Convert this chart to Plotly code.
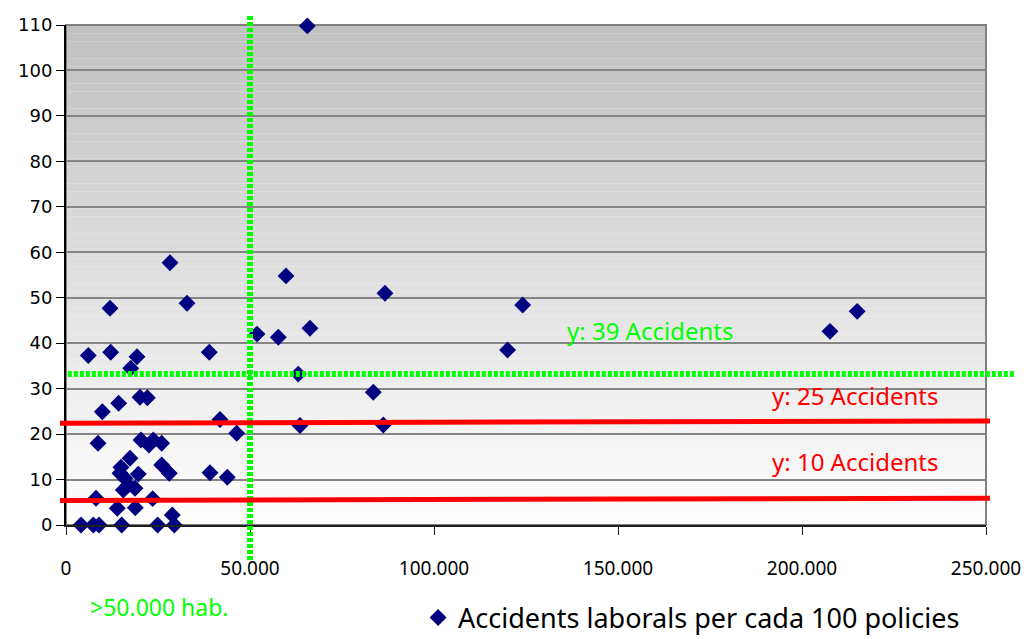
import plotly.graph_objects as go

# habitants (x) vs accidents per 100 policies (y)
habitants = [4080, 7420, 8970, 15130, 24900, 29430,
             28880, 13940, 18830, 8150, 23550,
             15570, 18750, 16930, 16030, 14670, 19650, 14940, 17390,
             26000, 28070,
             8700, 20380, 23730, 26000, 22550,
             9870, 14310, 20110, 22100,
             39130, 43830, 41850, 46380,
             6060, 12140, 19290, 17580, 38940,
             11960, 32880, 28260,
             51900, 57690, 59780, 66300, 63120, 63580,
             83500, 86220, 86680, 65570,
             120000, 124100, 207600, 215000]
accidents = [0, 0, 0, 0, 0, 0,
             2.2, 3.7, 3.8, 5.9, 5.8,
             7.7, 8.1, 8.8, 10.3, 11.4, 11.2, 12.7, 14.7,
             13.2, 11.4,
             18.0, 18.7, 18.7, 18.0, 17.6,
             24.9, 26.8, 28.1, 28.0,
             11.5, 10.5, 23.2, 20.2,
             37.3, 38.0, 37.0, 34.5, 38.0,
             47.7, 48.8, 57.7,
             42.0, 41.3, 54.8, 43.3, 33.2, 21.9,
             29.2, 22.0, 51.0, 109.8,
             38.5, 48.4, 42.6, 47.0]

habitants_cut = 50000
green_level = 33.2
red_levels = [(22.4, 22.9), (5.4, 5.9)]

comic = "Comic Sans MS, Noto Sans, sans-serif"

fig = go.Figure()

fig.add_trace(go.Scatter(
    x=habitants, y=accidents, mode="markers",
    name="Accidents laborals per cada 100 policies",
    marker=dict(symbol="diamond", size=13, color="#000080"),
    cliponaxis=False,
))

# gradient background: gray at top fading to white
n_bands = 60
for i in range(n_bands):
    t = (i + 0.5) / n_bands
    g = int(round(255 - 63 * t))
    fig.add_shape(type="rect", xref="x domain", yref="y domain",
                  x0=0, x1=1, y0=i / n_bands, y1=(i + 1) / n_bands,
                  fillcolor=f"rgb({g},{g},{g})", line_width=0, layer="below")

# gray frame top/right
fig.add_shape(type="rect", xref="x domain", yref="y domain", x0=0, x1=1, y0=0, y1=1,
              line=dict(color="#808080", width=2), layer="below")

# green dotted guides
fig.add_shape(type="line", xref="x", yref="paper",
              x0=habitants_cut, x1=habitants_cut, y0=-0.07, y1=1.02,
              line=dict(color="#00ff00", width=6, dash="4px,2px"))
fig.add_shape(type="line", xref="paper", yref="y",
              x0=0.002, x1=1.0315, y0=green_level, y1=green_level,
              line=dict(color="#00ff00", width=6, dash="4px,2px"))

# red threshold lines
for y0, y1 in red_levels:
    fig.add_shape(type="line", xref="paper", yref="y",
                  x0=-0.0065, x1=1.0043, y0=y0, y1=y1,
                  line=dict(color="#ff0000", width=5))

fig.add_annotation(x=158700, y=42.9, text="y: 39 Accidents", showarrow=False,
                   font=dict(family=comic, size=24, color="#00ff00"))
fig.add_annotation(x=214400, y=28.4, text="y: 25 Accidents", showarrow=False,
                   font=dict(family=comic, size=24, color="#ff0000"))
fig.add_annotation(x=214400, y=13.9, text="y: 10 Accidents", showarrow=False,
                   font=dict(family=comic, size=24, color="#ff0000"))
fig.add_annotation(xref="paper", yref="paper", x=0.102, y=-0.164,
                   xanchor="center", yanchor="middle",
                   text=">50.000 hab.", showarrow=False,
                   font=dict(family=comic, size=23, color="#00ff00"))

fig.update_xaxes(
    range=[0, 250000], tickvals=[0, 50000, 100000, 150000, 200000, 250000],
    tickformat=",.0f", showgrid=False, zeroline=False,
    showline=True, linecolor="#202020", linewidth=2,
    ticks="outside", ticklen=8, tickcolor="#202020", tickwidth=1,
    ticklabelstandoff=17,
    tickfont=dict(family=comic, size=19, color="black"),
)
fig.update_yaxes(
    range=[0, 110], dtick=10, zeroline=False,
    showgrid=True, gridcolor="#858585", gridwidth=1.5,
    showline=True, linecolor="black", linewidth=2,
    ticks="outside", ticklen=8, tickcolor="black", tickwidth=1,
    tickfont=dict(family="DejaVu Sans", size=18, color="black"),
)

fig.update_layout(
    width=1021, height=631,
    margin=dict(l=58, r=43, t=17, b=114, autoexpand=False),
    paper_bgcolor="white", plot_bgcolor="white",
    separators=",.",
    showlegend=True,
    legend=dict(orientation="h", x=0.68, y=-0.186, xanchor="center", yanchor="middle",
                font=dict(family=comic, size=27, color="black"),
                bgcolor="rgba(0,0,0,0)"),
)

fig.write_html("out.html")
